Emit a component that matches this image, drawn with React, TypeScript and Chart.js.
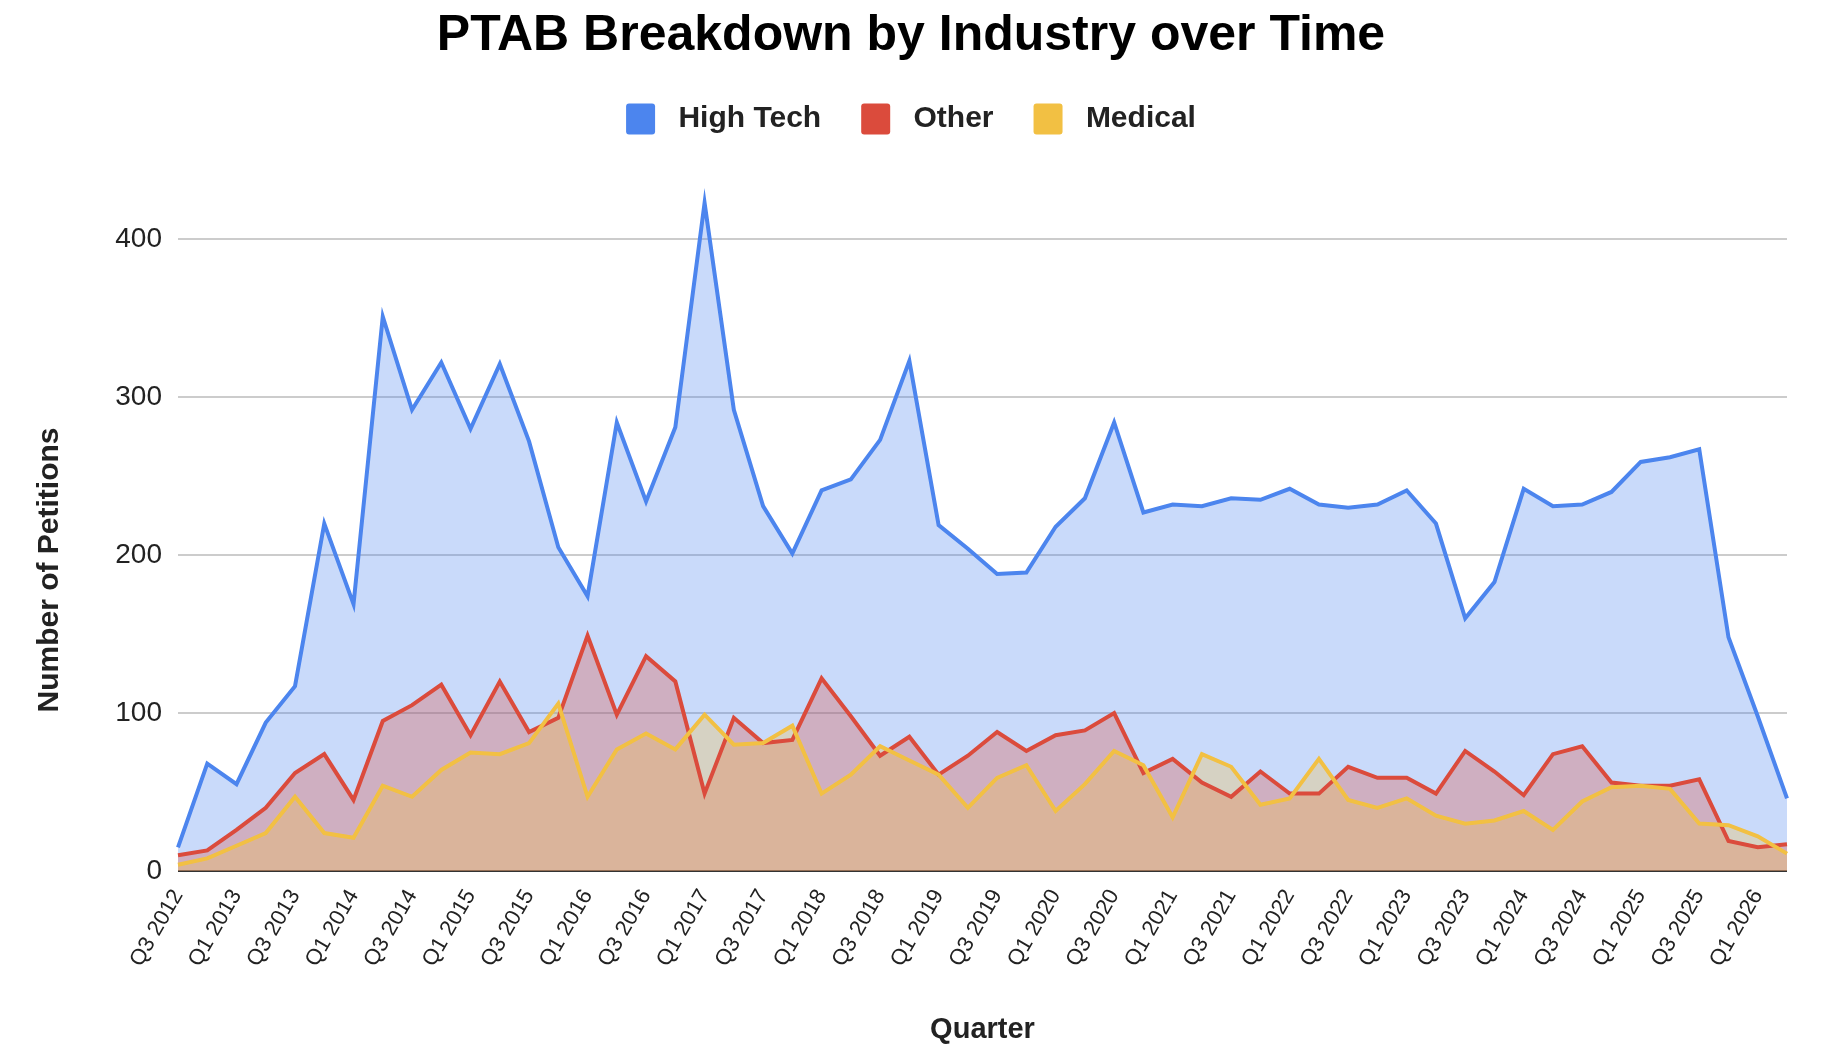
import React, { useEffect, useRef } from "react";
import { Chart, registerables } from "chart.js";

Chart.register(...registerables);

// quarterly petition counts, Q3 2012 .. Q2 2026
const quarters = [
  "Q3 2012", "Q4 2012",
  "Q1 2013", "Q2 2013", "Q3 2013", "Q4 2013",
  "Q1 2014", "Q2 2014", "Q3 2014", "Q4 2014",
  "Q1 2015", "Q2 2015", "Q3 2015", "Q4 2015",
  "Q1 2016", "Q2 2016", "Q3 2016", "Q4 2016",
  "Q1 2017", "Q2 2017", "Q3 2017", "Q4 2017",
  "Q1 2018", "Q2 2018", "Q3 2018", "Q4 2018",
  "Q1 2019", "Q2 2019", "Q3 2019", "Q4 2019",
  "Q1 2020", "Q2 2020", "Q3 2020", "Q4 2020",
  "Q1 2021", "Q2 2021", "Q3 2021", "Q4 2021",
  "Q1 2022", "Q2 2022", "Q3 2022", "Q4 2022",
  "Q1 2023", "Q2 2023", "Q3 2023", "Q4 2023",
  "Q1 2024", "Q2 2024", "Q3 2024", "Q4 2024",
  "Q1 2025", "Q2 2025", "Q3 2025", "Q4 2025",
  "Q1 2026", "Q2 2026",
];

const highTech = [
  15, 68, 55, 94, 117, 220, 169, 351, 292, 322, 280, 321, 272, 205,
  174, 284, 234, 281, 423, 292, 231, 201, 241, 248, 273, 323, 219, 204,
  188, 189, 218, 236, 284, 227, 232, 231, 236, 235, 242, 232, 230, 232,
  241, 220, 160, 183, 242, 231, 232, 240, 259, 262, 267, 148, 98, 46,
];

const other = [
  10, 13, 26, 40, 62, 74, 45, 95, 105, 118, 86, 120, 88, 97,
  149, 99, 136, 120, 49, 97, 81, 83, 122, 98, 73, 85, 61, 73,
  88, 76, 86, 89, 100, 62, 71, 56, 47, 63, 49, 49, 66, 59,
  59, 49, 76, 63, 48, 74, 79, 56, 54, 54, 58, 19, 15, 17,
];

const medical = [
  4, 8, 16, 24, 47, 24, 21, 54, 47, 64, 75, 74, 81, 106,
  47, 77, 87, 77, 99, 80, 81, 92, 49, 61, 79, 70, 61, 40,
  59, 67, 38, 55, 76, 67, 34, 74, 66, 42, 46, 71, 45, 40,
  46, 35, 30, 32, 38, 26, 44, 53, 54, 52, 30, 29, 22, 11,
];

const FONT = '"Liberation Sans", Arial, Helvetica, sans-serif';
const BLUE = "#4c85ee";
const RED = "#db4b3c";
const YELLOW = "#f2c043";

// y axis title sits a bit lower than the plot centre, like the original
const yTitlePlugin = {
  id: "yTitle",
  afterDraw(chart: any) {
    const ctx = chart.ctx;
    ctx.save();
    ctx.translate(50, 570);
    ctx.rotate(-Math.PI / 2);
    ctx.font = `bold 30px ${FONT}`;
    ctx.fillStyle = "#222";
    ctx.textAlign = "center";
    ctx.textBaseline = "middle";
    ctx.fillText("Number of Petitions", 0, 0);
    ctx.restore();
  },
};

const App: React.FC = () => {
  const canvasRef = useRef<HTMLCanvasElement>(null);

  useEffect(() => {
    document.body.style.margin = "0";
    if (!canvasRef.current) return;

    const series = [
      { label: "High Tech", data: highTech, color: BLUE, fill: "rgba(76,133,238,0.3)", order: 2 },
      { label: "Other", data: other, color: RED, fill: "rgba(219,75,60,0.3)", order: 1 },
      { label: "Medical", data: medical, color: YELLOW, fill: "rgba(242,192,67,0.3)", order: 0 },
    ];

    const chart = new Chart(canvasRef.current, {
      type: "line",
      data: {
        labels: quarters,
        datasets: series.map((s) => ({
          label: s.label,
          data: s.data,
          borderColor: s.color,
          backgroundColor: s.fill,
          borderWidth: 4,
          pointRadius: 0,
          pointHoverRadius: 0,
          tension: 0,
          fill: "origin",
          order: s.order,
        })),
      },
      options: {
        animation: false,
        responsive: true,
        maintainAspectRatio: false,
        layout: { padding: { left: 35, right: 53, top: 0, bottom: 0 } },
        plugins: {
          filler: { drawTime: "beforeDatasetsDraw" },
          tooltip: { enabled: false },
          title: {
            display: true,
            text: "PTAB Breakdown by Industry over Time",
            color: "#000",
            font: { family: FONT, size: 50, weight: "bold", lineHeight: 1.1 },
            padding: { top: 8.5, bottom: 0 },
          },
          legend: {
            display: true,
            position: "top",
            labels: {
              color: "#222",
              font: { family: FONT, size: 30, weight: "bold" },
              boxWidth: 29,
              boxHeight: 31,
              useBorderRadius: true,
              borderRadius: 3,
              padding: 40,
              sort: (a: any, b: any) => a.datasetIndex - b.datasetIndex,
              generateLabels: (c: any) =>
                Chart.defaults.plugins.legend.labels.generateLabels(c).map((item: any) => ({
                  ...item,
                  text: " " + item.text,
                  fillStyle: series[item.datasetIndex].color,
                  strokeStyle: series[item.datasetIndex].color,
                  lineWidth: 0,
                })),
            },
          },
        },
        scales: {
          x: {
            offset: false,
            grid: { display: false, drawTicks: false },
            border: { display: false },
            ticks: {
              autoSkip: false,
              minRotation: 60,
              maxRotation: 60,
              padding: 14,
              color: "#222",
              font: { family: FONT, size: 22 },
              callback: (_v: any, i: number) => (i % 2 === 0 ? quarters[i] : ""),
            },
            title: {
              display: true,
              text: "Quarter",
              color: "#222",
              font: { family: FONT, size: 29, weight: "bold" },
              padding: { top: 0, bottom: 17 },
            },
            afterFit: (scale: any) => {
              scale.height = 193;
            },
          },
          y: {
            min: 0,
            max: 460,
            grid: {
              drawTicks: false,
              lineWidth: 2,
              color: (ctx: any) => (ctx.tick && ctx.tick.value === 0 ? "#333" : "#cccccc"),
            },
            border: { display: false },
            ticks: {
              stepSize: 100,
              padding: 16,
              color: "#222",
              font: { family: FONT, size: 28 },
            },
            afterBuildTicks: (scale: any) => {
              scale.ticks = scale.ticks.filter((t: any) => t.value % 100 === 0);
            },
            afterFit: (scale: any) => {
              scale.width = 143;
            },
          },
        },
      },
      plugins: [yTitlePlugin],
    });

    return () => {
      chart.destroy();
    };
  }, []);

  return (
    <div style={{ position: "relative", width: 1840, height: 1064 }}>
      <canvas ref={canvasRef} />
    </div>
  );
};

export default App;
